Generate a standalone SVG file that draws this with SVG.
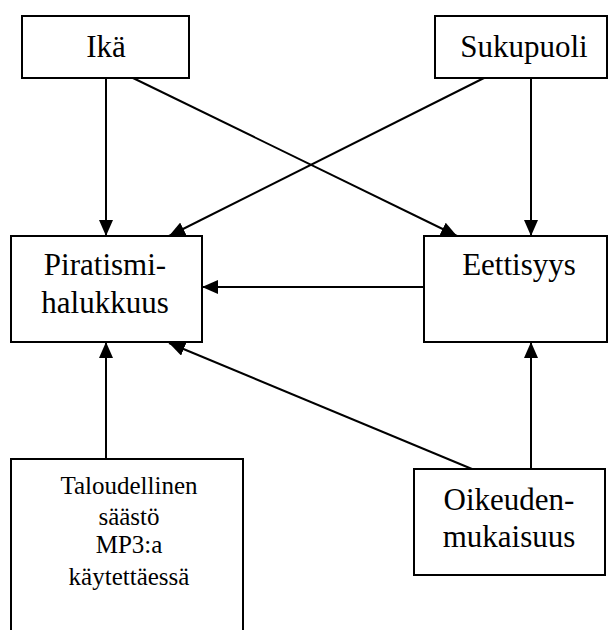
<svg xmlns="http://www.w3.org/2000/svg" width="609" height="630" viewBox="0 0 609 630">
<style>
.box{fill:#fff;stroke:#000;stroke-width:2}
text{font-family:'Liberation Serif',serif;fill:#000;text-anchor:middle}
.t{font-size:31px}
.s{font-size:25px}
.c{stroke:#000;stroke-width:2;fill:none;marker-end:url(#ah)}
</style>
<defs>
<marker id="ah" markerWidth="16" markerHeight="14" refX="16" refY="7" orient="auto" markerUnits="userSpaceOnUse">
<path d="M0,0 L16,7 L0,14 Z" fill="#000"/>
</marker>
</defs>
<g id="connectors">
<line class="c" x1="106" y1="78" x2="106" y2="236"/>
<line class="c" x1="133" y1="78" x2="457" y2="236"/>
<line class="c" x1="484" y1="78" x2="169" y2="236"/>
<line class="c" x1="531" y1="78" x2="531" y2="236"/>
<line class="c" x1="424" y1="287" x2="202" y2="287"/>
<line class="c" x1="106" y1="459" x2="106" y2="342"/>
<line class="c" x1="472" y1="469" x2="169" y2="343"/>
<line class="c" x1="531" y1="469" x2="531" y2="342"/>
</g>
<g id="ika">
<rect class="box" x="22" y="16" width="167" height="62"/>
<text class="t" x="106" y="57">Ikä</text>
</g>
<g id="sukupuoli">
<rect class="box" x="435" y="16" width="172" height="62"/>
<text class="t" x="524" y="57">Sukupuoli</text>
</g>
<g id="piratismi">
<rect class="box" x="11" y="236" width="191" height="106"/>
<text class="t" x="105" y="275">Piratismi-</text>
<text class="t" x="105" y="313">halukkuus</text>
</g>
<g id="eettisyys">
<rect class="box" x="424" y="236" width="183" height="106"/>
<text class="t" x="519" y="275">Eettisyys</text>
</g>
<g id="taloudellinen">
<path class="box" d="M11,632 L11,459 L243,459 L243,632"/>
<text class="s" x="129" y="494">Taloudellinen</text>
<text class="s" x="129" y="525">säästö</text>
<text class="s" x="129" y="553">MP3:a</text>
<text class="s" x="129" y="585">käytettäessä</text>
</g>
<g id="oikeudenmukaisuus">
<rect class="box" x="414" y="469" width="191" height="106"/>
<text class="t" x="509" y="510">Oikeuden-</text>
<text class="t" x="509" y="547">mukaisuus</text>
</g>
</svg>
